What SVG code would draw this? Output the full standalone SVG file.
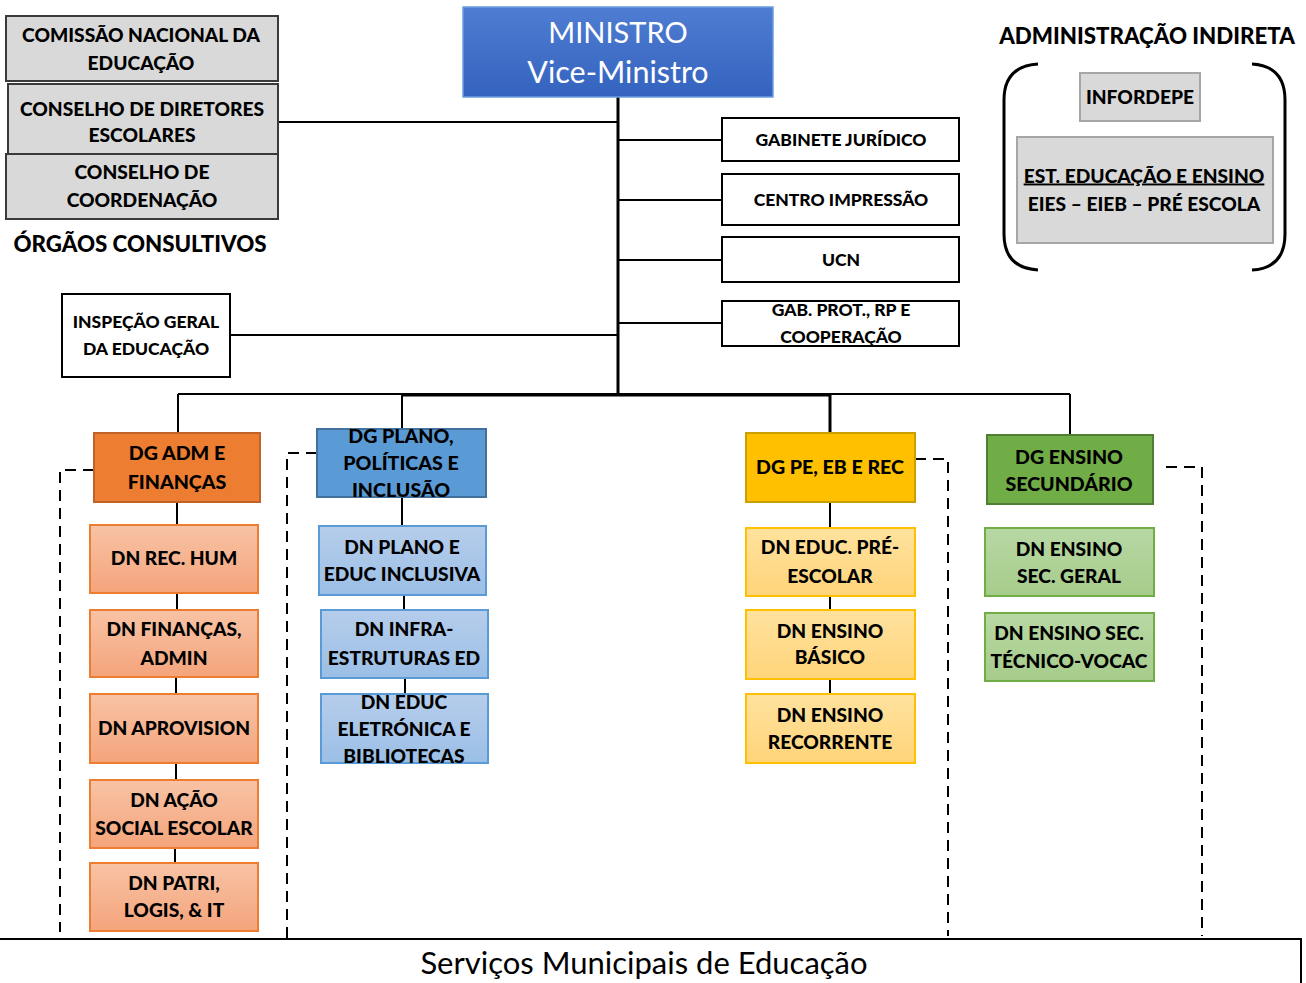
<svg xmlns="http://www.w3.org/2000/svg" width="1306" height="983" viewBox="0 0 1306 983">
<defs>
<linearGradient id="gMin" x1="0" y1="0" x2="0" y2="1"><stop offset="0" stop-color="#4f7dd2"/><stop offset="1" stop-color="#3463bf"/></linearGradient>
<linearGradient id="gOr" x1="0" y1="0" x2="0" y2="1"><stop offset="0" stop-color="#f8c3a5"/><stop offset="1" stop-color="#f4a47b"/></linearGradient>
<linearGradient id="gBl" x1="0" y1="0" x2="0" y2="1"><stop offset="0" stop-color="#b6cdeb"/><stop offset="1" stop-color="#9bbfe6"/></linearGradient>
<linearGradient id="gYe" x1="0" y1="0" x2="0" y2="1"><stop offset="0" stop-color="#ffe29e"/><stop offset="1" stop-color="#ffd47a"/></linearGradient>
<linearGradient id="gGr" x1="0" y1="0" x2="0" y2="1"><stop offset="0" stop-color="#b8d8a4"/><stop offset="1" stop-color="#a6cc8b"/></linearGradient>
</defs>
<style>
text{font-family:Lato,"Open Sans","Liberation Sans",sans-serif;text-anchor:middle;fill:#000}
.s{font-weight:900;font-size:17.5px}
.b{font-weight:900;font-size:19.2px}
.h{font-weight:900;font-size:22.3px}
.dg{font-weight:900;font-size:19.6px}
.gray{fill:#d9d9d9;stroke:#3a3a3a;stroke-width:2}
.grayl{fill:#d9d9d9;stroke:#a6a6a6;stroke-width:2}
.wh{fill:#fff;stroke:#000;stroke-width:2}
.ln{stroke:#000;stroke-width:2;fill:none}
.tk{stroke:#000;stroke-width:3;fill:none}
.ds{stroke:#000;stroke-width:2;fill:none;stroke-dasharray:11 7}
.or{fill:url(#gOr);stroke:#ed7d31;stroke-width:2}
.bl{fill:url(#gBl);stroke:#5b9bd5;stroke-width:2}
.ye{fill:url(#gYe);stroke:#ffc000;stroke-width:2}
.gr{fill:url(#gGr);stroke:#70ad47;stroke-width:2}
</style>
<rect width="1306" height="983" fill="#fff"/>

<g id="connectors">
<line class="tk" x1="618" y1="97" x2="618" y2="395"/>
<line class="ln" x1="278" y1="122" x2="618" y2="122"/>
<line class="ln" x1="230" y1="335" x2="618" y2="335"/>
<line class="ln" x1="618" y1="140" x2="722" y2="140"/>
<line class="ln" x1="618" y1="200" x2="722" y2="200"/>
<line class="ln" x1="618" y1="260" x2="722" y2="260"/>
<line class="ln" x1="618" y1="323" x2="722" y2="323"/>
<line class="ln" x1="178" y1="394" x2="1070" y2="394"/>
<line class="tk" x1="402" y1="395" x2="830" y2="395"/>
<line class="ln" x1="178" y1="394" x2="178" y2="434"/>
<line class="ln" x1="402" y1="394" x2="402" y2="430"/>
<line class="tk" x1="830" y1="394" x2="830" y2="434"/>
<line class="ln" x1="1070" y1="394" x2="1070" y2="436"/>
<line class="ln" x1="177" y1="502" x2="177" y2="525"/>
<line class="ln" x1="177" y1="593" x2="177" y2="610"/>
<line class="ln" x1="176" y1="677" x2="176" y2="694"/>
<line class="ln" x1="176" y1="763" x2="176" y2="780"/>
<line class="ln" x1="175" y1="848" x2="175" y2="863"/>
<line class="ln" x1="402" y1="497" x2="402" y2="526"/>
<line class="ln" x1="404" y1="595" x2="404" y2="610"/>
<line class="ln" x1="405" y1="678" x2="405" y2="694"/>
<line class="ln" x1="830" y1="502" x2="830" y2="528"/>
<line class="ln" x1="830" y1="596" x2="830" y2="610"/>
<line class="ln" x1="830" y1="679" x2="830" y2="694"/>
<polyline class="ds" points="94,470 60,470 60,932"/>
<polyline class="ds" points="317,453 287,453 287,938"/>
<polyline class="ds" points="915,459 948,459 948,936"/>
<polyline class="ds" points="1166,467 1202,467 1202,936"/>
</g>

<g id="ministro">
<rect x="463" y="7" width="310" height="90" fill="url(#gMin)" stroke="#6c9de0" stroke-width="1.5"/>
<text x="618" y="43" style="font-size:29px;fill:#fff">MINISTRO</text>
<text x="618" y="83" style="font-size:30.5px;fill:#fff">Vice-Ministro</text>
</g>

<g id="comissao">
<rect class="gray" x="6" y="16" width="272" height="65"/>
<text class="b" x="141" y="41.5">COMISSÃO NACIONAL DA</text>
<text class="b" x="141" y="69.5">EDUCAÇÃO</text>
</g>
<g id="conselho-diretores">
<rect class="gray" x="8" y="84" width="270" height="71"/>
<text class="b" x="142" y="115.5">CONSELHO DE DIRETORES</text>
<text class="b" x="142" y="141.5">ESCOLARES</text>
</g>
<g id="conselho-coordenacao">
<rect class="gray" x="6" y="154" width="272" height="65"/>
<text class="b" x="142" y="178.5">CONSELHO DE</text>
<text class="b" x="142" y="206.5">COORDENAÇÃO</text>
</g>
<g id="orgaos-label">
<text class="h" x="140" y="252">ÓRGÃOS CONSULTIVOS</text>
</g>

<g id="inspecao">
<rect class="wh" x="62" y="294" width="168" height="83"/>
<text class="s" x="146" y="327.5">INSPEÇÃO GERAL</text>
<text class="s" x="146" y="354.5">DA EDUCAÇÃO</text>
</g>

<g id="gabinete-juridico">
<rect class="wh" x="722" y="118" width="237" height="43"/>
<text class="s" x="841" y="145.5">GABINETE JURÍDICO</text>
</g>
<g id="centro-impressao">
<rect class="wh" x="722" y="174" width="237" height="51"/>
<text class="s" x="841" y="205.5">CENTRO IMPRESSÃO</text>
</g>
<g id="ucn">
<rect class="wh" x="722" y="237" width="237" height="45"/>
<text class="s" x="841" y="265.5">UCN</text>
</g>
<g id="gab-prot">
<rect class="wh" x="722" y="301" width="237" height="45"/>
<text class="s" x="841" y="315.5">GAB. PROT., RP E</text>
<text class="s" x="841" y="342.5">COOPERAÇÃO</text>
</g>

<g id="admin-indireta">
<text class="h" x="1147" y="44">ADMINISTRAÇÃO INDIRETA</text>
<path class="tk" d="M1038,64 Q1004,66 1004,100 L1004,234 Q1004,268 1038,270"/>
<path class="tk" d="M1252,64 Q1285,66 1285,100 L1285,234 Q1285,268 1252,270"/>
</g>
<g id="infordepe">
<rect class="grayl" x="1080" y="73" width="120" height="48"/>
<text class="b" x="1140" y="103.5">INFORDEPE</text>
</g>
<g id="est-educacao">
<rect class="grayl" x="1017" y="137" width="256" height="106"/>
<text class="b" x="1144" y="182.5" text-decoration="underline">EST. EDUCAÇÃO E ENSINO</text>
<text class="b" x="1144" y="210.5">EIES – EIEB – PRÉ ESCOLA</text>
</g>

<g id="dg-adm">
<rect x="94" y="433" width="166" height="69" fill="#ed7d31" stroke="#c0622a" stroke-width="2"/>
<text class="dg" x="177" y="460">DG ADM E</text>
<text class="dg" x="177" y="489">FINANÇAS</text>
</g>
<g id="dg-plano">
<rect x="317" y="429" width="169" height="68" fill="#5b9bd5" stroke="#41719c" stroke-width="2"/>
<text class="dg" x="401" y="443">DG PLANO,</text>
<text class="dg" x="401" y="470">POLÍTICAS E</text>
<text class="dg" x="401" y="497">INCLUSÃO</text>
</g>
<g id="dg-pe">
<rect x="746" y="433" width="169" height="69" fill="#ffc000" stroke="#c9a000" stroke-width="2"/>
<text class="dg" x="830" y="474">DG PE, EB E REC</text>
</g>
<g id="dg-secundario">
<rect x="987" y="435" width="166" height="69" fill="#70ad47" stroke="#507e32" stroke-width="2"/>
<text class="dg" x="1069" y="464">DG ENSINO</text>
<text class="dg" x="1069" y="491">SECUNDÁRIO</text>
</g>

<g id="dn-rec-hum">
<rect class="or" x="90" y="525" width="168" height="68"/>
<text class="b" x="174" y="564.5">DN REC. HUM</text>
</g>
<g id="dn-financas">
<rect class="or" x="90" y="610" width="168" height="67"/>
<text class="b" x="174" y="635.5">DN FINANÇAS,</text>
<text class="b" x="174" y="664.5">ADMIN</text>
</g>
<g id="dn-aprovision">
<rect class="or" x="90" y="694" width="168" height="69"/>
<text class="b" x="174" y="734.5">DN APROVISION</text>
</g>
<g id="dn-acao-social">
<rect class="or" x="90" y="780" width="168" height="68"/>
<text class="b" x="174" y="806.5">DN AÇÃO</text>
<text class="b" x="174" y="834.5">SOCIAL ESCOLAR</text>
</g>
<g id="dn-patri">
<rect class="or" x="90" y="863" width="168" height="68"/>
<text class="b" x="174" y="889.5">DN PATRI,</text>
<text class="b" x="174" y="916.5">LOGIS, &amp; IT</text>
</g>

<g id="dn-plano">
<rect class="bl" x="319" y="526" width="167" height="69"/>
<text class="b" x="402" y="553.5">DN PLANO E</text>
<text class="b" x="402" y="580.5">EDUC INCLUSIVA</text>
</g>
<g id="dn-infra">
<rect class="bl" x="321" y="610" width="167" height="68"/>
<text class="b" x="404" y="635.5">DN INFRA-</text>
<text class="b" x="404" y="664.5">ESTRUTURAS ED</text>
</g>
<g id="dn-educ-eletronica">
<rect class="bl" x="321" y="694" width="167" height="69"/>
<text class="b" x="404" y="708.5">DN EDUC</text>
<text class="b" x="404" y="735.5">ELETRÓNICA E</text>
<text class="b" x="404" y="762.5">BIBLIOTECAS</text>
</g>

<g id="dn-pre-escolar">
<rect class="ye" x="746" y="528" width="169" height="68"/>
<text class="b" x="830" y="553.5">DN EDUC. PRÉ-</text>
<text class="b" x="830" y="582.5">ESCOLAR</text>
</g>
<g id="dn-basico">
<rect class="ye" x="746" y="610" width="169" height="69"/>
<text class="b" x="830" y="637.5">DN ENSINO</text>
<text class="b" x="830" y="663.5">BÁSICO</text>
</g>
<g id="dn-recorrente">
<rect class="ye" x="746" y="694" width="169" height="69"/>
<text class="b" x="830" y="721.5">DN ENSINO</text>
<text class="b" x="830" y="748.5">RECORRENTE</text>
</g>

<g id="dn-sec-geral">
<rect class="gr" x="985" y="528" width="169" height="68"/>
<text class="b" x="1069" y="555.5">DN ENSINO</text>
<text class="b" x="1069" y="582.5">SEC. GERAL</text>
</g>
<g id="dn-sec-tecnico">
<rect class="gr" x="985" y="613" width="169" height="68"/>
<text class="b" x="1069" y="639.5">DN ENSINO SEC.</text>
<text class="b" x="1069" y="667.5">TÉCNICO-VOCAC</text>
</g>

<g id="servicos-municipais">
<rect x="-2" y="939" width="1303" height="50" fill="#fff" stroke="#000" stroke-width="2"/>
<text x="644" y="974" style="font-size:31px">Serviços Municipais de Educação</text>
</g>
</svg>
